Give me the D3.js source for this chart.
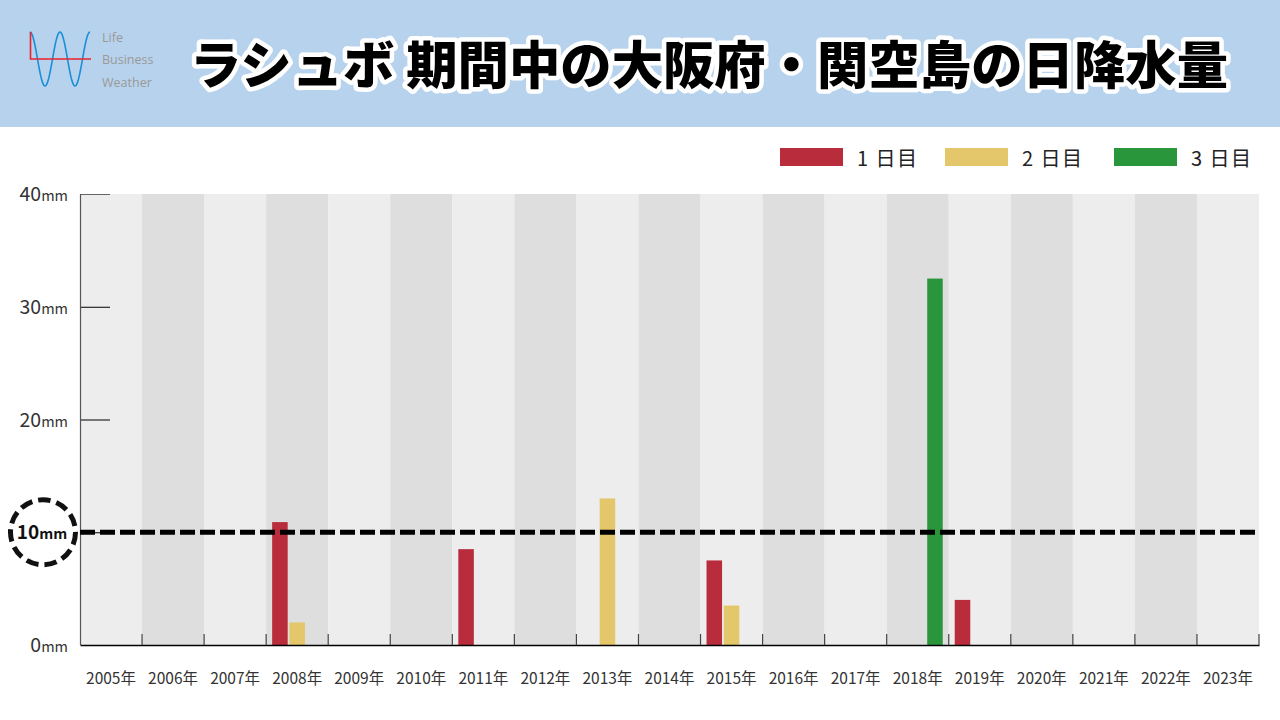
<!DOCTYPE html>
<html><head><meta charset="utf-8">
<script src="https://cdn.jsdelivr.net/npm/d3@7"></script>
<style>
html,body{margin:0;padding:0;background:#fff;}
svg{display:block;font-family:"Noto Sans CJK JP","Noto Sans",sans-serif;}
</style></head>
<body>
<svg id="c" width="1280" height="720"></svg>
<script>
const years = ["2005年","2006年","2007年","2008年","2009年","2010年","2011年","2012年","2013年","2014年","2015年","2016年","2017年","2018年","2019年","2020年","2021年","2022年","2023年"];
const day1 = [0,0,0,10.9,0,0,8.5,0,0,0,7.5,0,0,0,4.0,0,0,0,0];
const day2 = [0,0,0,2.0,0,0,0,0,13.0,0,3.5,0,0,0,0,0,0,0,0];
const day3 = [0,0,0,0,0,0,0,0,0,0,0,0,0,32.5,0,0,0,0,0];
const seriesNames = ["1 日目","2 日目","3 日目"];
const seriesColors = ["#b82c3b","#e3c76a","#2a963c"];
const yTicks = [0,10,20,30,40];
const title = "ラシュボ 期間中の大阪府・関空島の日降水量";
const threshold = 10;

const svg = d3.select("#c");
const W=1280,H=720;
const m = {left:80,right:1259,top:194,bottom:645};

// header
svg.append("rect").attr("x",0).attr("y",0).attr("width",W).attr("height",127).attr("fill","#b7d2ec");
// logo
const lg = svg.append("g");
const wave = d3.range(0,60.5,0.5).map(t=>[30+t, 59-27*Math.cos(t/30*2*Math.PI)]);
lg.append("path").attr("d",d3.line()(wave)).attr("fill","none").attr("stroke","#1b8fd8").attr("stroke-width",1.6);
lg.append("path").attr("d","M30.5,32 V59 H91").attr("fill","none").attr("stroke","#e8232b").attr("stroke-width",1.6);
[["Life",42],["Business",64],["Weather",87]].forEach(([t,y])=>{
  lg.append("text").attr("x",102).attr("y",y).text(t).attr("font-size",12.5).attr("fill","#999").attr("font-family","'Open Sans',sans-serif");
});
// title
svg.append("text").attr("x",709).attr("y",84).attr("text-anchor","middle")
  .attr("font-size",51).attr("font-weight",900).attr("fill","#000")
  .attr("stroke","#fff").attr("stroke-width",9).attr("stroke-linejoin","round")
  .attr("paint-order","stroke").attr("textLength",1038).attr("lengthAdjust","spacingAndGlyphs")
  .text(title);

// scales
const x = d3.scaleBand().domain(years).range([m.left,m.right]).padding(0);
const xs = d3.scaleBand().domain(seriesNames).range([6, x.bandwidth()-6]).paddingInner(0.1);
const y = d3.scaleLinear().domain([0,40]).range([m.bottom,m.top]);

// bands
svg.append("g").selectAll("rect").data(years).join("rect")
  .attr("x",d=>x(d)).attr("y",y(40)).attr("width",x.bandwidth()).attr("height",y(0)-y(40))
  .attr("fill",(d,i)=>i%2===0?"#ededed":"#dedede");

// bars
const series=[day1,day2,day3];
series.forEach((vals,si)=>{
  svg.append("g").selectAll("rect").data(vals.map((v,i)=>({v,yr:years[i]})).filter(d=>d.v>0)).join("rect")
    .attr("x",d=>x(d.yr)+xs(seriesNames[si])).attr("width",xs.bandwidth())
    .attr("y",d=>y(d.v)).attr("height",d=>y(0)-y(d.v))
    .attr("fill",seriesColors[si]);
});

// y axis
const ya = svg.append("g").attr("transform",`translate(${m.left},0)`)
  .call(d3.axisRight(y).tickValues(yTicks).tickSize(30).tickFormat(""));
ya.select(".domain").remove();
ya.selectAll(".tick line").attr("stroke",(d)=>d===40?"#666":"#000").attr("stroke-width",1);
ya.selectAll(".tick").filter(d=>d===0).remove();
svg.append("line").attr("x1",m.left+0.5).attr("x2",m.left+0.5).attr("y1",m.top).attr("y2",m.bottom).attr("stroke","#555").attr("stroke-width",1.2);

// y labels
yTicks.filter(d=>d!==threshold).forEach(v=>{
  const t = svg.append("text").attr("x",68).attr("y",y(v)+7).attr("text-anchor","end").attr("fill","#333");
  t.append("tspan").attr("font-size",19.5).text(v);
  t.append("tspan").attr("font-size",14.5).text("mm");
});
// threshold label
svg.append("circle").attr("cx",43).attr("cy",y(threshold)).attr("r",32.5).attr("fill","none")
  .attr("stroke","#111").attr("stroke-width",5).attr("stroke-dasharray","12.5 6");
const tl = svg.append("text").attr("x",42).attr("y",y(threshold)+7).attr("text-anchor","middle").attr("font-weight",700).attr("fill","#111");
tl.append("tspan").attr("font-size",19).text(threshold);
tl.append("tspan").attr("font-size",14.5).text("mm");

// x axis
const xa = svg.append("g").attr("transform",`translate(0,${m.bottom})`)
  .call(d3.axisBottom(x).tickSize(0).tickFormat(""));
xa.select(".domain").attr("stroke","#000").attr("stroke-width",1.5);
svg.append("g").selectAll("line").data(years.slice(1).concat(["end"])).join("line")
  .attr("x1",(d,i)=>i<years.length-1?x(d):m.right).attr("x2",(d,i)=>i<years.length-1?x(d):m.right)
  .attr("y1",m.bottom-11).attr("y2",m.bottom).attr("stroke","#444").attr("stroke-width",1.2);
svg.append("g").selectAll("text").data(years).join("text")
  .attr("x",d=>x(d)+x.bandwidth()/2).attr("y",684).attr("text-anchor","middle")
  .attr("font-size",15.5).attr("fill","#333").text(d=>d);

// threshold line
svg.append("line").attr("x1",m.left).attr("x2",m.right).attr("y1",y(threshold)).attr("y2",y(threshold))
  .attr("stroke","#000").attr("stroke-width",5).attr("stroke-dasharray","15 5");

// legend
const legX=[780,945,1114];
seriesNames.forEach((n,i)=>{
  svg.append("rect").attr("x",legX[i]).attr("y",148).attr("width",63).attr("height",18).attr("fill",seriesColors[i]);
  svg.append("text").attr("x",legX[i]+77).attr("y",166).attr("font-size",20).attr("letter-spacing",1.5).attr("fill","#222").text(n);
});
</script>
</body></html>
